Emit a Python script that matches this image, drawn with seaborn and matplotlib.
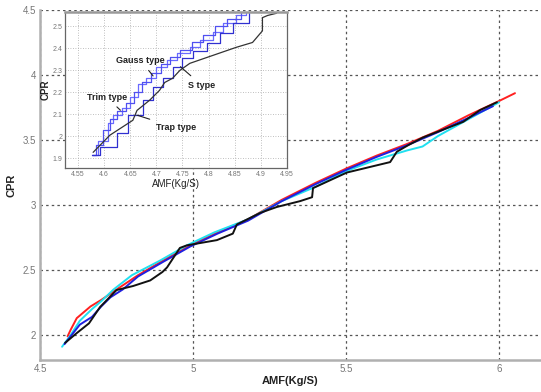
import matplotlib
matplotlib.use("Agg")
import matplotlib.pyplot as plt
import seaborn as sns
import pandas as pd

# ---------------- data ----------------
red_x = [4.590, 4.600, 4.620, 4.640, 4.665, 4.700, 4.750, 4.820, 4.900, 4.990, 5.080, 5.180, 5.290, 5.400, 5.500, 5.600, 5.700, 5.800, 5.900, 6.000, 6.052]
red_y = [1.990, 2.040, 2.130, 2.170, 2.220, 2.270, 2.350, 2.460, 2.570, 2.690, 2.790, 2.890, 3.040, 3.170, 3.280, 3.380, 3.470, 3.570, 3.690, 3.800, 3.860]

blue_x = [4.580, 4.600, 4.630, 4.670, 4.700, 4.730, 4.770, 4.820, 4.900, 4.990, 5.080, 5.180, 5.290, 5.400, 5.500, 5.600, 5.700, 5.800, 5.900, 5.980]
blue_y = [1.930, 1.990, 2.080, 2.140, 2.220, 2.290, 2.350, 2.450, 2.560, 2.680, 2.780, 2.880, 3.030, 3.160, 3.270, 3.370, 3.460, 3.560, 3.670, 3.760]

cyan_x = [4.572, 4.600, 4.630, 4.670, 4.700, 4.740, 4.800, 4.890, 4.980, 5.070, 5.180, 5.290, 5.400, 5.500, 5.600, 5.700, 5.750, 5.800, 5.900, 6.000]
cyan_y = [1.910, 2.000, 2.110, 2.200, 2.260, 2.350, 2.460, 2.570, 2.690, 2.790, 2.890, 3.030, 3.140, 3.260, 3.350, 3.420, 3.450, 3.530, 3.660, 3.790]

black_x = [4.582, 4.620, 4.660, 4.696, 4.750, 4.804, 4.860, 4.900, 4.915, 4.957, 4.980, 5.078, 5.130, 5.143, 5.220, 5.274, 5.350, 5.389, 5.392, 5.503, 5.644, 5.666, 5.703, 5.752, 5.883, 5.938, 5.993]
black_y = [1.940, 2.015, 2.090, 2.215, 2.346, 2.377, 2.420, 2.485, 2.520, 2.670, 2.690, 2.730, 2.780, 2.850, 2.940, 2.985, 3.030, 3.060, 3.130, 3.250, 3.330, 3.410, 3.460, 3.520, 3.640, 3.730, 3.790]

main_xticks = [4.5, 5.0, 5.5, 6.0]
main_xticklabels = ["4.5", "5", "5.5", "6"]
main_yticks = [2.0, 2.5, 3.0, 3.5, 4.0, 4.5]
main_yticklabels = ["2", "2.5", "3", "3.5", "4", "4.5"]

# inset series
gauss_x = [4.576, 4.588, 4.607, 4.617, 4.634, 4.649, 4.665, 4.681, 4.700, 4.720, 4.739, 4.764, 4.783, 4.808, 4.827, 4.853, 4.872]
gauss_y = [1.914, 1.980, 2.060, 2.095, 2.127, 2.177, 2.240, 2.264, 2.314, 2.345, 2.377, 2.405, 2.436, 2.473, 2.514, 2.550, 2.560]

trim_x = [4.576, 4.584, 4.598, 4.612, 4.625, 4.641, 4.657, 4.672, 4.690, 4.708, 4.727, 4.745, 4.768, 4.790, 4.812, 4.836, 4.862]
trim_y = [1.914, 1.960, 2.030, 2.080, 2.115, 2.150, 2.200, 2.245, 2.290, 2.330, 2.360, 2.395, 2.430, 2.460, 2.500, 2.535, 2.565]

stype_x = [4.576, 4.592, 4.624, 4.645, 4.674, 4.693, 4.712, 4.731, 4.750, 4.770, 4.796, 4.821, 4.846, 4.878]
stype_y = [1.914, 1.950, 2.013, 2.095, 2.164, 2.223, 2.264, 2.314, 2.355, 2.390, 2.423, 2.468, 2.514, 2.560]

trap_x = [4.579, 4.611, 4.655, 4.663, 4.687, 4.706, 4.716, 4.731, 4.745, 4.764, 4.853, 4.884, 4.903, 4.903, 4.913, 4.930]
trap_y = [1.927, 2.005, 2.073, 2.118, 2.164, 2.209, 2.245, 2.264, 2.300, 2.332, 2.405, 2.427, 2.480, 2.540, 2.550, 2.560]

inset_xticks = [4.55, 4.6, 4.65, 4.7, 4.75, 4.8, 4.85, 4.9, 4.95]
inset_xticklabels = ["4.55", "4.6", "4.65", "4.7", "4.75", "4.8", "4.85", "4.9", "4.95"]
inset_yticks = [1.9, 2.0, 2.1, 2.2, 2.3, 2.4, 2.5]
inset_yticklabels = ["1.9", "2", "2.1", "2.2", "2.3", "2.4", "2.5"]

# ---------------- plotting ----------------
sns.set_theme(style="white")
plt.rcParams['font.family'] = ['Liberation Sans', 'DejaVu Sans']

fig = plt.figure(figsize=(5.41, 3.92), dpi=100)
ax = fig.add_axes([0.074, 0.0816, 0.926, 0.893])

main_series = [
    ("red", red_x, red_y, "#ff2020"),
    ("cyan", cyan_x, cyan_y, "#20e0f0"),
    ("blue", blue_x, blue_y, "#2020e0"),
    ("black", black_x, black_y, "#111111"),
]
for name, xs, ys, col in main_series:
    df = pd.DataFrame({"x": xs, "y": ys})
    sns.lineplot(data=df, x="x", y="y", ax=ax, color=col, lw=1.4,
                 sort=False, estimator=None)

ax.set_xlim(4.5, 6.137)
ax.set_ylim(1.808, 4.5)
ax.set_xticks(main_xticks)
ax.set_xticklabels(main_xticklabels)
ax.set_yticks(main_yticks)
ax.set_yticklabels(main_yticklabels)
ax.grid(True, ls=(0, (2, 2.5)), color="#555555", lw=0.9)
for s in ["top", "right"]:
    ax.spines[s].set_visible(False)
for s in ["left", "bottom"]:
    ax.spines[s].set_color("#b0b0b0")
    ax.spines[s].set_linewidth(1.8)
ax.tick_params(axis="both", labelsize=7, colors="#777777", length=3, direction="in", pad=3)
ax.set_xlabel("AMF(Kg/S)", fontsize=8, fontweight="bold", color="#222222", labelpad=1)
ax.set_ylabel("CPR", fontsize=8, fontweight="bold", color="#222222", labelpad=4)

# inset
ins = fig.add_axes([0.120, 0.571, 0.4105, 0.398])
ins.set_facecolor("white")
inset_series = [
    ("gauss", gauss_x, gauss_y, "#6a6aff"),
    ("trim", trim_x, trim_y, "#5050f0"),
    ("stype", stype_x, stype_y, "#3030d0"),
    ("trap", trap_x, trap_y, "#333333"),
]
for name, xs, ys, col in inset_series:
    df = pd.DataFrame({"x": xs, "y": ys})
    sns.lineplot(data=df, x="x", y="y", ax=ins, color=col, lw=0.9,
                 sort=False, estimator=None, drawstyle="default" if name == "trap" else "steps-post")
ins.set_xlim(4.525, 4.95)
ins.set_ylim(1.855, 2.565)
ins.set_xticks(inset_xticks)
ins.set_xticklabels(inset_xticklabels)
ins.set_yticks(inset_yticks)
ins.set_yticklabels(inset_yticklabels)
ins.grid(True, ls=(0, (1, 2)), color="#aaaaaa", lw=0.6)
for s in ins.spines.values():
    s.set_color("#666666")
    s.set_linewidth(0.9)
ins.spines["top"].set_linewidth(1.8)
ins.spines["top"].set_color("#999999")
ins.tick_params(axis="both", labelsize=5, colors="#777777", length=2, direction="in", pad=2)
ins.set_xlabel("AMF(Kg/S)", fontsize=7, color="#222222", labelpad=1)
ins.set_ylabel("CPR", fontsize=7, fontweight="bold", color="#222222", labelpad=1)

ann = dict(fontsize=6.5, fontweight="bold", color="#222222")
arrow = dict(arrowstyle="-", color="#222222", lw=0.8)
ins.annotate("Gauss type", xy=(4.697, 2.265), xytext=(4.670, 2.345), ha="center", va="center", arrowprops=arrow, **ann)
ins.annotate("S type", xy=(4.742, 2.325), xytext=(4.787, 2.232), ha="center", va="center", arrowprops=arrow, **ann)
ins.annotate("Trim type", xy=(4.635, 2.110), xytext=(4.605, 2.178), ha="center", va="center", arrowprops=arrow, **ann)
ins.annotate("Trap type", xy=(4.658, 2.100), xytext=(4.737, 2.040), ha="center", va="center", arrowprops=arrow, **ann)

fig.savefig("out.png", dpi=100)
